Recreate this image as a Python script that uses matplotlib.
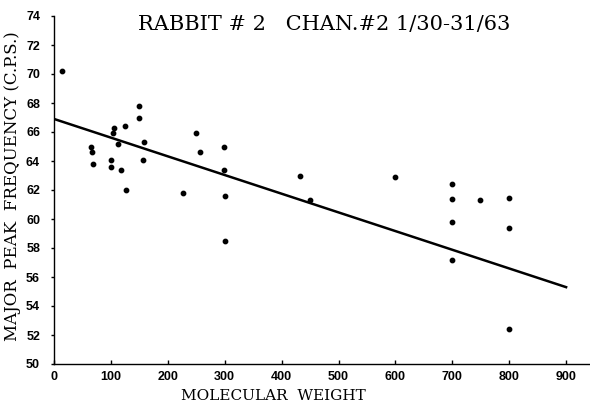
import matplotlib
matplotlib.use("Agg")
import matplotlib.pyplot as plt

# Peak frequency vs molecular weight, rabbit 2, channel 2
mol_weight = [14, 65, 66, 69, 100, 101, 104, 105, 112, 117, 125, 127,
              149, 150, 156, 158, 227, 250, 257, 299, 299, 301, 301,
              432, 450, 600, 700, 700, 700, 700, 748, 800, 800, 800]
peak_freq = [70.2, 65.0, 64.6, 63.8, 63.6, 64.05, 65.9, 66.3, 65.2, 63.4, 66.4, 62.0,
             67.0, 67.8, 64.1, 65.3, 61.8, 65.9, 64.6, 65.0, 63.4, 61.6, 58.5,
             63.0, 61.3, 62.9, 62.4, 61.35, 59.8, 57.2, 61.3, 61.45, 59.4, 52.4]

# Regression line end points
fit_x = [0, 900]
fit_y = [66.9, 55.3]

x_ticks = list(range(0, 1000, 100))
y_ticks = list(range(50, 76, 2))

fig = plt.figure(figsize=(5.9, 4.08), dpi=100)
ax = fig.add_axes([54 / 590, 44 / 408, 536 / 590, 348 / 408])

ax.scatter(mol_weight, peak_freq, s=10, color="black", zorder=3)
ax.plot(fit_x, fit_y, color="black", linewidth=1.8)

ax.set_xlim(0, 942)
ax.set_ylim(50, 74)
ax.set_xticks(x_ticks)
ax.set_yticks(y_ticks)

for side in ["top", "right"]:
    ax.spines[side].set_visible(False)
for side in ["left", "bottom"]:
    ax.spines[side].set_linewidth(1.0)

tick_font = {"family": "Liberation Sans", "weight": "bold", "size": 9}
ax.set_xticklabels([str(v) for v in x_ticks], fontdict=tick_font)
ax.set_yticklabels([str(v) for v in y_ticks], fontdict=tick_font)
ax.tick_params(axis="x", direction="in", length=3, width=1, pad=5)
ax.tick_params(axis="y", direction="out", length=2, width=1, pad=8)

fig.text(324 / 590, 1 - 24 / 408, "RABBIT # 2   CHAN.#2 1/30-31/63",
         family="DejaVu Serif", fontsize=15, ha="center", va="center")
fig.text(273 / 590, 1 - 396 / 408, "MOLECULAR  WEIGHT",
         family="DejaVu Serif", fontsize=11, ha="center", va="center")
fig.text(13 / 590, 1 - 186 / 408, "MAJOR  PEAK  FREQUENCY (C.P.S.)",
         family="DejaVu Serif", fontsize=12, rotation=90, ha="center", va="center")

fig.savefig("out.png", dpi=100)
